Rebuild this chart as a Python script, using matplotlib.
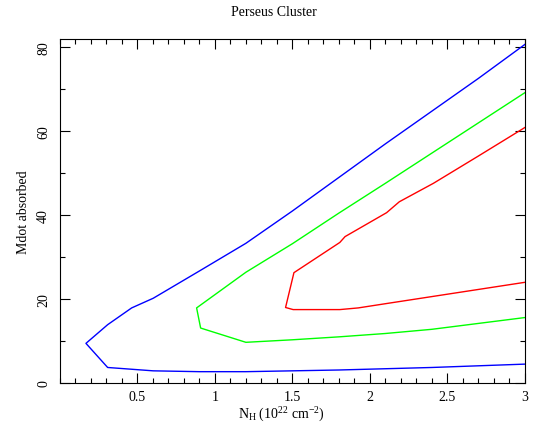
import matplotlib
matplotlib.use("Agg")
import matplotlib.pyplot as plt
from matplotlib.ticker import MultipleLocator

plt.rcParams['font.family'] = ['Liberation Serif', 'DejaVu Serif']
plt.rcParams['mathtext.fontset'] = 'custom'
plt.rcParams['mathtext.rm'] = 'Liberation Serif'
plt.rcParams['mathtext.it'] = 'Liberation Serif:italic'

# contour paths (x = N_H, y = Mdot absorbed)
blue_x = [3.0, 2.7, 2.4, 2.1, 1.8, 1.5, 1.2, 0.9, 0.602, 0.463, 0.308, 0.168,
          0.308, 0.602, 0.9, 1.2, 1.5, 1.8, 2.1, 2.4, 2.7, 3.0]
blue_y = [80.7, 72.6, 64.8, 57.0, 49.0, 41.0, 33.3, 26.7, 20.2, 17.9, 13.9, 9.45,
          3.7, 2.9, 2.7, 2.7, 2.9, 3.1, 3.4, 3.7, 4.1, 4.5]

green_x = [3.0, 2.7, 2.4, 2.1, 1.8, 1.5, 1.2, 0.882, 0.908, 1.2, 1.5, 1.8,
           2.1, 2.4, 2.7, 3.0]
green_y = [69.2, 62.0, 54.8, 47.6, 40.5, 33.2, 26.4, 17.9, 13.1, 9.7, 10.3, 11.0,
           11.8, 12.8, 14.2, 15.6]

red_x = [3.0, 2.7, 2.41, 2.19, 2.108, 1.84, 1.806, 1.51, 1.456, 1.505, 1.806,
         1.925, 2.1, 2.4, 2.7, 3.0]
red_y = [60.9, 54.1, 47.6, 43.2, 40.6, 34.9, 33.5, 26.3, 18.0, 17.5, 17.5,
         17.9, 18.9, 20.6, 22.3, 24.0]

fig = plt.figure(figsize=(5.35, 4.27), dpi=100)
ax = fig.add_axes([0.112, 0.1007, 0.869, 0.8056])

ax.plot(blue_x, blue_y, color='#0000ff', lw=1.0)
ax.plot(green_x, green_y, color='#00ff00', lw=1.0)
ax.plot(red_x, red_y, color='#ff0000', lw=1.0)

ax.set_xlim(0, 3)
ax.set_ylim(0, 82)
ax.set_xticks([0.5, 1, 1.5, 2, 2.5, 3])
ax.set_xticklabels(['0.5', '1', '1.5', '2', '2.5', '3'])
ax.xaxis.set_minor_locator(MultipleLocator(0.1))
ax.set_yticks([0, 20, 40, 60, 80])
ax.yaxis.set_minor_locator(MultipleLocator(10))

ax.tick_params(which='both', direction='in', top=True, right=True,
               labelsize=10, width=0.8)
ax.tick_params(which='major', length=7)
ax.tick_params(which='minor', length=3.5)
ax.tick_params(axis='x', pad=5)
ax.tick_params(axis='y', pad=7)
for lab in ax.get_yticklabels():
    lab.set_rotation(90)
    lab.set_va('center')

for s in ax.spines.values():
    s.set_linewidth(0.8)

ax.set_xlabel(r'N$_{\rm H}$ (10$^{22}$ cm$^{-2}$)', fontsize=10)
ax.xaxis.set_label_coords(0.476, -0.062, transform=ax.transAxes)
ax.xaxis.label.set_va('top')
ax.set_ylabel('Mdot absorbed', fontsize=10, labelpad=5)
fig.suptitle('Perseus Cluster', fontsize=10, x=0.512, y=0.985)

fig.savefig('out.png', dpi=100)
